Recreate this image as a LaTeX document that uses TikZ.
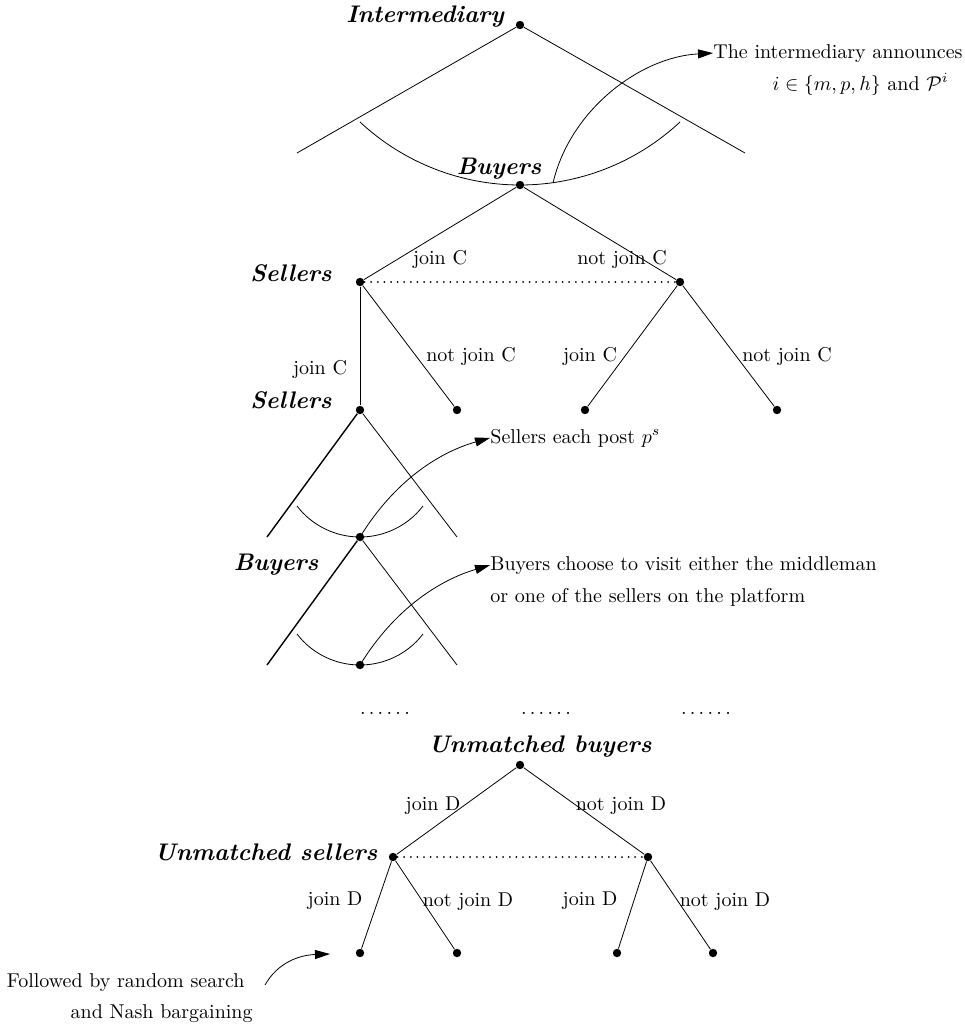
\documentclass[tikz,border=0pt]{standalone}
\usetikzlibrary{arrows.meta}
\begin{document}
\begin{tikzpicture}[x=0.5pt,y=-0.5pt,
  dot/.style={circle,fill=black,inner sep=0pt,minimum size=4.2pt},
  player/.style={font=\large\bfseries\itshape,inner sep=0pt,anchor=base},
  lbl/.style={inner sep=0pt,anchor=base},
  note/.style={inner sep=0pt},
  arr/.style={-{Triangle[length=7.5pt,width=4.5pt]}},
  infoset/.style={line width=1pt,line cap=round,dash pattern=on 0pt off 3.3pt},
  thickedge/.style={line width=0.7pt}]
\useasboundingbox (0,0) rectangle (964,1028);

% ---------- top stage ----------
\node[dot] (I) at (520,25) {};
\coordinate (IL) at (297,153);
\coordinate (IR) at (745,153);
\node[dot] (B1) at (520,185) {};
\coordinate (aL) at (360,122);
\coordinate (aR) at (680,122);
\coordinate (aS) at (553,183);
\draw (I) -- (IL);
\draw (I) -- (IR);
\draw (aL) .. controls (403.4,162.5) and (460.6,185) .. (B1.center)
           .. controls (579.4,185) and (636.6,162.5) .. (aR);
\node[player] (lI) at (425,22) {Intermediary};
\node[player] (lB1) at (499,174) {Buyers};
\node[note,anchor=base west] (T1) at (713,58) {The intermediary announces};
\node[note,anchor=base east] (T1b) at (949,90) {$i\in\{m,p,h\}$ and $\mathcal{P}^i$};
\draw[arr] (aS) .. controls (570,110) and (640,57) .. (T1.west);

% ---------- joining stage C ----------
\node[dot] (S1) at (360,282) {};
\node[dot] (S2) at (680,282) {};
\draw (B1) -- (S1);
\draw (B1) -- (S2);
\draw[infoset] (S1) -- (S2);
\node[player] (lS1) at (291,281) {Sellers};
\node[lbl] (jc1) at (440,264) {join C};
\node[lbl] (nc1) at (622,264) {not join C};

\node[dot] (S1a) at (360,410) {};
\node[dot] (S1b) at (457,410) {};
\node[dot] (S2a) at (585,410) {};
\node[dot] (S2b) at (777,410) {};
\draw (S1) -- (S1a);
\draw (S1) -- (S1b);
\draw (S2) -- (S2a);
\draw (S2) -- (S2b);
\node[lbl] (jc2) at (320,374) {join C};
\node[lbl] (nc2) at (471,361) {not join C};
\node[lbl] (jc3) at (590,361) {join C};
\node[lbl] (nc3) at (787,361) {not join C};

% ---------- sellers post prices ----------
\node[player] (lS2) at (291,408) {Sellers};
\coordinate (S3L) at (267,537);
\coordinate (S3R) at (457,537);
\node[dot] (B2) at (360,537) {};
\draw[thickedge] (S1a) -- (S3L);
\draw (S1a) -- (S3R);
\coordinate (bL) at (297,506);
\coordinate (bR) at (423,506);
\draw (bL) .. controls (312,525.6) and (335.3,537) .. (B2.center)
           .. controls (384.7,537) and (408,525.6) .. (bR);
\node[note,anchor=base west] (T2) at (490,443) {Sellers each post $p^s$};
\draw[arr] (B2.center) .. controls (395,480) and (440,452) .. (T2.west);

% ---------- buyers visit ----------
\node[player] (lB2) at (276,570) {Buyers};
\coordinate (B2L) at (267,665);
\coordinate (B2R) at (457,665);
\node[dot] (E) at (360,665) {};
\draw[thickedge] (B2) -- (B2L);
\draw (B2) -- (B2R);
\coordinate (cL) at (297,634);
\coordinate (cR) at (423,634);
\draw (cL) .. controls (312,653.6) and (335.3,665) .. (E.center)
           .. controls (384.7,665) and (408,653.6) .. (cR);
\node[note,anchor=base west] (T3) at (490,570) {Buyers choose to visit either the middleman};
\node[note,anchor=base west] (T3b) at (490,602) {or one of the sellers on the platform};
\draw[arr] (E.center) .. controls (395,608) and (440,580) .. (T3.west);

% ---------- ellipses ----------
\node[lbl] (d1) at (385,714) {$\ldots\ldots$};
\node[lbl] (d2) at (546,714) {$\ldots\ldots$};
\node[lbl] (d3) at (706,714) {$\ldots\ldots$};

% ---------- joining stage D ----------
\node[dot] (U) at (520,765) {};
\node[player] (lU) at (540,752) {Unmatched buyers};
\node[dot] (V1) at (393,857) {};
\node[dot] (V2) at (648,857) {};
\draw (U) -- (V1);
\draw (U) -- (V2);
\draw[infoset] (V1) -- (V2);
\node[player] (lV) at (266,860) {Unmatched sellers};
\node[lbl] (jd1) at (433,810) {join D};
\node[lbl] (nd1) at (621,810) {not join D};

\node[dot] (L1) at (360,953) {};
\node[dot] (L2) at (457,953) {};
\node[dot] (L3) at (617,953) {};
\node[dot] (L4) at (713,953) {};
\draw (V1) -- (L1);
\draw (V1) -- (L2);
\draw (V2) -- (L3);
\draw (V2) -- (L4);
\node[lbl] (jd2) at (335,905) {join D};
\node[lbl] (nd2) at (468,906) {not join D};
\node[lbl] (jd3) at (590,905) {join D};
\node[lbl] (nd3) at (725,906) {not join D};

% ---------- final note ----------
\node[note,anchor=base east] (T4) at (245,987) {Followed by random search};
\node[note,anchor=base east] (T4b) at (253,1018) {and Nash bargaining};
\coordinate (f0) at (265,985);
\coordinate (f1) at (330,954);
\draw[arr] (f0) .. controls (278,962) and (300,955) .. (f1);
\end{tikzpicture}
\end{document}
